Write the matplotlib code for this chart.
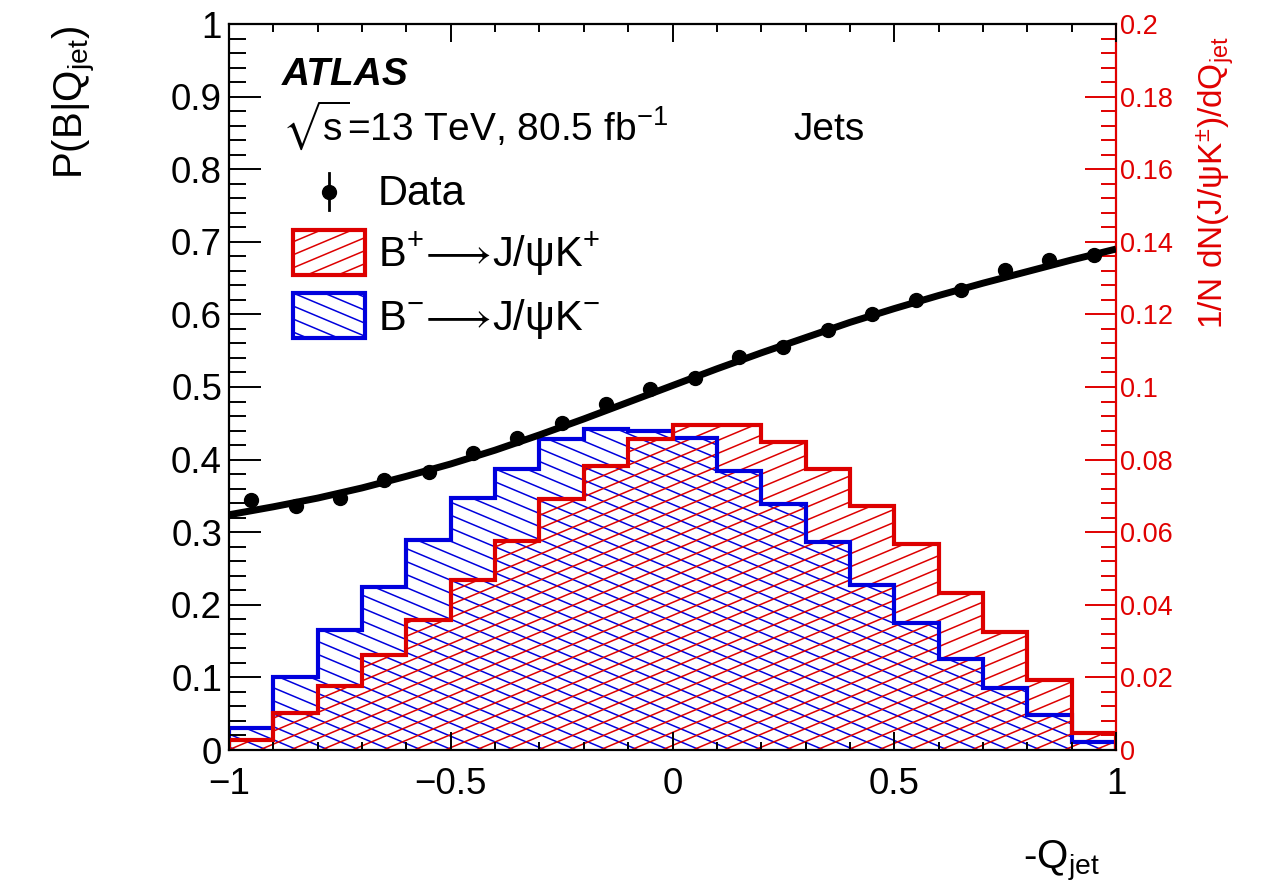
import numpy as np
import matplotlib
matplotlib.use("Agg")
import matplotlib.pyplot as plt
from matplotlib.collections import LineCollection
from matplotlib.patches import Rectangle
from matplotlib.transforms import IdentityTransform
from matplotlib.ticker import MultipleLocator, FuncFormatter
from matplotlib.lines import Line2D

plt.rcParams["font.family"] = ["Liberation Sans", "DejaVu Sans"]
plt.rcParams["mathtext.fontset"] = "custom"
plt.rcParams["mathtext.rm"] = "Liberation Sans"
plt.rcParams["mathtext.it"] = "Liberation Sans:italic"
plt.rcParams["mathtext.bf"] = "Liberation Sans:bold"
plt.rcParams["mathtext.fallback"] = "stixsans"

# ---- data -----------------------------------------------------------------
bin_edges = [-1.0, -0.9, -0.8, -0.7, -0.6, -0.5, -0.4, -0.3, -0.2, -0.1, 0.0,
             0.1, 0.2, 0.3, 0.4, 0.5, 0.6, 0.7, 0.8, 0.9, 1.0]
bin_centers = [-0.95, -0.85, -0.75, -0.65, -0.55, -0.45, -0.35, -0.25, -0.15, -0.05,
               0.05, 0.15, 0.25, 0.35, 0.45, 0.55, 0.65, 0.75, 0.85, 0.95]

# normalised -Q_jet distributions for B+ and B- -> J/psi K
b_plus = [0.0028, 0.0101, 0.0175, 0.0262, 0.0359, 0.0469, 0.0575, 0.0692, 0.0782, 0.0857,
          0.0894, 0.0894, 0.0848, 0.0775, 0.0673, 0.0568, 0.0432, 0.0326, 0.0193, 0.0046]
b_minus = [0.0060, 0.0202, 0.0331, 0.0449, 0.0579, 0.0694, 0.0775, 0.0857, 0.0885, 0.0880,
           0.0860, 0.0768, 0.0679, 0.0572, 0.0455, 0.0351, 0.0250, 0.0170, 0.0097, 0.0023]

# P(B|Q_jet) measured in data
p_data = [0.345, 0.336, 0.347, 0.372, 0.383, 0.409, 0.430, 0.451, 0.477, 0.497,
          0.513, 0.541, 0.555, 0.579, 0.600, 0.620, 0.634, 0.661, 0.675, 0.682]
p_err = [0.008, 0.006, 0.005, 0.004, 0.004, 0.003, 0.003, 0.003, 0.003, 0.003,
         0.003, 0.003, 0.003, 0.003, 0.003, 0.004, 0.004, 0.005, 0.006, 0.008]

# fitted curve
fit_x = [-1.0, -0.9, -0.8, -0.7, -0.6, -0.5, -0.4, -0.3, -0.2, -0.1, 0.0,
         0.1, 0.2, 0.3, 0.4, 0.5, 0.6, 0.7, 0.8, 0.9, 1.0]
fit_y = [0.324, 0.335, 0.347, 0.361, 0.377, 0.394, 0.413, 0.434, 0.456, 0.479, 0.502,
         0.525, 0.547, 0.568, 0.589, 0.608, 0.626, 0.643, 0.659, 0.675, 0.690]

RED = "#dd0000"
BLUE = "#0000dd"
AXRED = "#e00000"

W, H = 1276, 884
fig = plt.figure(figsize=(W / 100, H / 100), dpi=100)


def fpos(x, y):
    return x / W, 1 - y / H


L, R, T, B = 229, 1116, 24, 750
ax = fig.add_axes([L / W, 1 - B / H, (R - L) / W, (B - T) / H])
ax2 = ax.twinx()
ax.set_zorder(ax2.get_zorder() + 1)
ax.patch.set_visible(False)

ax.set_xlim(-1, 1)
ax.set_ylim(0, 1)
ax2.set_ylim(0, 0.2)


def hatch_lines(slope, spacing=13.0):
    """Parallel lines in pixel space covering the whole canvas."""
    segs = []
    c0 = -abs(slope) * W - 50
    c1 = H + abs(slope) * W + 50
    for c in np.arange(c0, c1, spacing):
        segs.append([(0, c), (W, c + slope * W)])
    return segs


def hatched(container, clip_patch, color, slope):
    lc = LineCollection(hatch_lines(slope), colors=color, linewidths=1.1,
                        transform=IdentityTransform())
    container.add_artist(lc)
    lc.set_clip_path(clip_patch)
    return lc


# histograms on the right-hand scale
blue_patch = ax2.stairs(b_minus, bin_edges, baseline=0, fill=False,
                        edgecolor=BLUE, linewidth=3.0, zorder=4)
red_patch = ax2.stairs(b_plus, bin_edges, baseline=0, fill=False,
                       edgecolor=RED, linewidth=3.0, zorder=5)
hatched(ax2, blue_patch, BLUE, -0.42).set_zorder(2)
hatched(ax2, red_patch, RED, 0.42).set_zorder(3)

# data and fit on the left-hand scale
ax.plot(fit_x, fit_y, color="black", lw=5, solid_capstyle="butt", zorder=5)
ax.errorbar(bin_centers, p_data, yerr=p_err, fmt="o", color="black", ms=10,
            elinewidth=2, capsize=0, zorder=6)

# ---- axes styling -----------------------------------------------------------
for a in (ax, ax2):
    for s in a.spines.values():
        s.set_linewidth(1.6)
ax.spines["right"].set_visible(False)
ax2.spines["left"].set_visible(False)
ax2.spines["top"].set_visible(False)
ax2.spines["bottom"].set_visible(False)
ax2.spines["right"].set_color(AXRED)

minus = lambda v, p: ("%g" % v).replace("-", "\u2212")

ax.xaxis.set_major_locator(MultipleLocator(0.5))
ax.xaxis.set_minor_locator(MultipleLocator(0.1))
ax.yaxis.set_major_locator(MultipleLocator(0.1))
ax.yaxis.set_minor_locator(MultipleLocator(0.02))
ax.xaxis.set_major_formatter(FuncFormatter(minus))
ax.yaxis.set_major_formatter(FuncFormatter(minus))
ax.tick_params(axis="x", which="both", direction="in", top=True, bottom=True,
               width=1.4, labelsize=26.5, pad=12)
ax.tick_params(axis="x", which="major", length=13)
ax.tick_params(axis="x", which="minor", length=6)
ax.tick_params(axis="y", which="both", direction="in", left=True, right=False,
               width=1.4, labelsize=26.5, pad=5)
ax.tick_params(axis="y", which="major", length=23)
ax.tick_params(axis="y", which="minor", length=12)

ax2.yaxis.set_major_locator(MultipleLocator(0.02))
ax2.yaxis.set_minor_locator(MultipleLocator(0.004))
ax2.yaxis.set_major_formatter(FuncFormatter(minus))
ax2.tick_params(axis="y", which="both", direction="in", right=True, left=False,
                width=1.4, color=AXRED, labelcolor=AXRED, labelsize=19.5, pad=3)
ax2.tick_params(axis="y", which="major", length=22)
ax2.tick_params(axis="y", which="minor", length=11)

# axis titles
fig.text(*fpos(75, 26), r"P(B|Q$_{\rm jet}$)", rotation=90, ha="center", va="top",
         fontsize=29)
fig.text(*fpos(1100, 868), r"-Q$_{\rm jet}$", ha="right", va="baseline", fontsize=29)
fig.text(*fpos(1215, 36), r"1/N dN(J/ψK$^{\pm}$)/dQ$_{\rm jet}$", rotation=90,
         ha="center", va="top", fontsize=24, color=AXRED)

# labels
fig.text(*fpos(282, 85), "ATLAS", fontsize=28, fontweight="bold", fontstyle="italic",
         ha="left", va="baseline")
fig.text(*fpos(282, 140), r"$\sqrt{\rm s}$=13 TeV, 80.5 fb$^{-1}$", fontsize=28,
         ha="left", va="baseline")
fig.text(*fpos(793, 140), "Jets", fontsize=28, ha="left", va="baseline")

# legend
fig.add_artist(Line2D([329 / W, 329 / W], [1 - 173 / H, 1 - 210 / H],
                      color="black", lw=2, transform=fig.transFigure))
fig.add_artist(Line2D([329 / W], [1 - 192 / H], marker="o", ms=10, color="black",
                      transform=fig.transFigure))
fig.text(*fpos(378, 205), "Data", fontsize=30, ha="left", va="baseline")

for (y0, y1, col, slope, label) in [
        (230, 275, RED, 0.42, r"B$^{+}\!\longrightarrow\!$J/ψK$^{+}$"),
        (293, 338, BLUE, -0.42, r"B$^{-}\!\longrightarrow\!$J/ψK$^{-}$")]:
    rect = Rectangle((293 / W, 1 - y1 / H), 72 / W, (y1 - y0) / H,
                     transform=fig.transFigure, fill=False, edgecolor=col, lw=3.0,
                     zorder=5)
    fig.add_artist(rect)
    hatched(fig, rect, col, slope)
    fig.text(*fpos(378, y1 - 8), label, fontsize=30, ha="left", va="baseline")

fig.savefig("out.png", dpi=100)
